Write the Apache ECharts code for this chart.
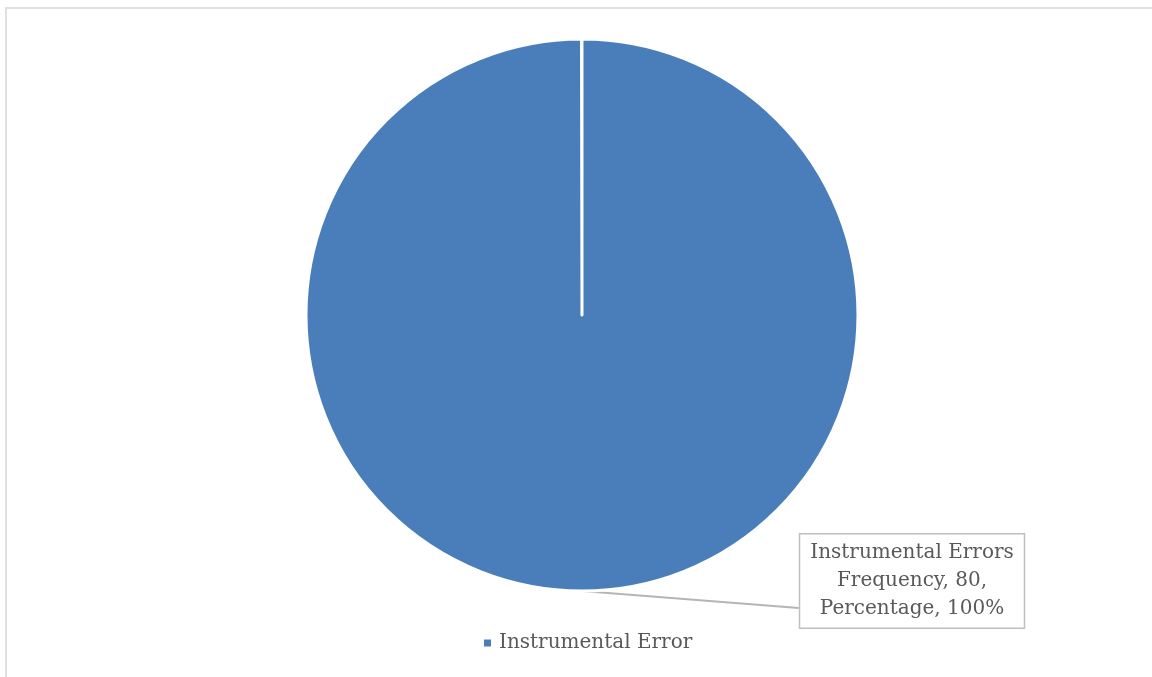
<!DOCTYPE html>
<html>
<head>
<meta charset="utf-8">
<script src="https://cdn.jsdelivr.net/npm/echarts@6/dist/echarts.min.js"></script>
<style>
  html, body { margin: 0; padding: 0; background: #fff; overflow: hidden; }
  #frame {
    position: absolute; left: 5px; top: 7px; width: 1300px; height: 800px;
    border-left: 2px solid #e0e0e0; border-top: 2px solid #e0e0e0;
  }
  #chart { position: absolute; left: 0; top: 0; width: 1152px; height: 677px; }
</style>
</head>
<body>
<div id="frame"></div>
<div id="chart"></div>
<script>
// 数据
const categories = ["Instrumental Error"];
const frequency = [80];
const seriesName = "Instrumental Errors Frequency";

const textColor = "#595959";
const font = "DejaVu Serif";

const chart = echarts.init(document.getElementById("chart"));

const options = {
  animation: false,
  legend: {
    data: categories,
    bottom: 19,
    left: 477,
    icon: "rect",
    itemWidth: 9,
    itemHeight: 9,
    textStyle: { color: textColor, fontFamily: font, fontSize: 20, padding: [0, 0, 0, 2] }
  },
  series: [
    {
      name: seriesName,
      type: "pie",
      center: ["50.52%", "46.53%"],
      radius: 276,
      startAngle: 90,
      endAngle: 90 - 359.9,
      clockwise: true,
      itemStyle: {
        color: "#4a7ebb",
        borderColor: "#ffffff",
        borderWidth: 3
      },
      label: {
        show: true,
        position: "outside",
        formatter: (p) =>
          "Instrumental Errors\nFrequency, " + p.value + ",\nPercentage, " + Math.round(p.percent) + "%",
        color: textColor,
        fontFamily: font,
        fontSize: 20,
        lineHeight: 28,
        align: "center",
        borderColor: "#bfbfbf",
        borderWidth: 1.5,
        backgroundColor: "#ffffff",
        padding: [5, 10, 4, 10]
      },
      labelLine: {
        show: true,
        lineStyle: { color: "#b5b5b5", width: 2 }
      },
      labelLayout: (params) => {
        const p0 = params.labelLinePoints ? params.labelLinePoints[0] : [582, 591];
        const x = 912;
        const y = 581;
        const edge = x - params.labelRect.width / 2;
        return {
          x: x,
          y: y,
          align: "center",
          verticalAlign: "middle",
          labelLinePoints: [p0, [edge, 608], [edge, 608]]
        };
      },
      emphasis: { disabled: true },
      data: categories.map((c, i) => ({ name: c, value: frequency[i] }))
    }
  ]
};

chart.setOption(options);
</script>
</body>
</html>
